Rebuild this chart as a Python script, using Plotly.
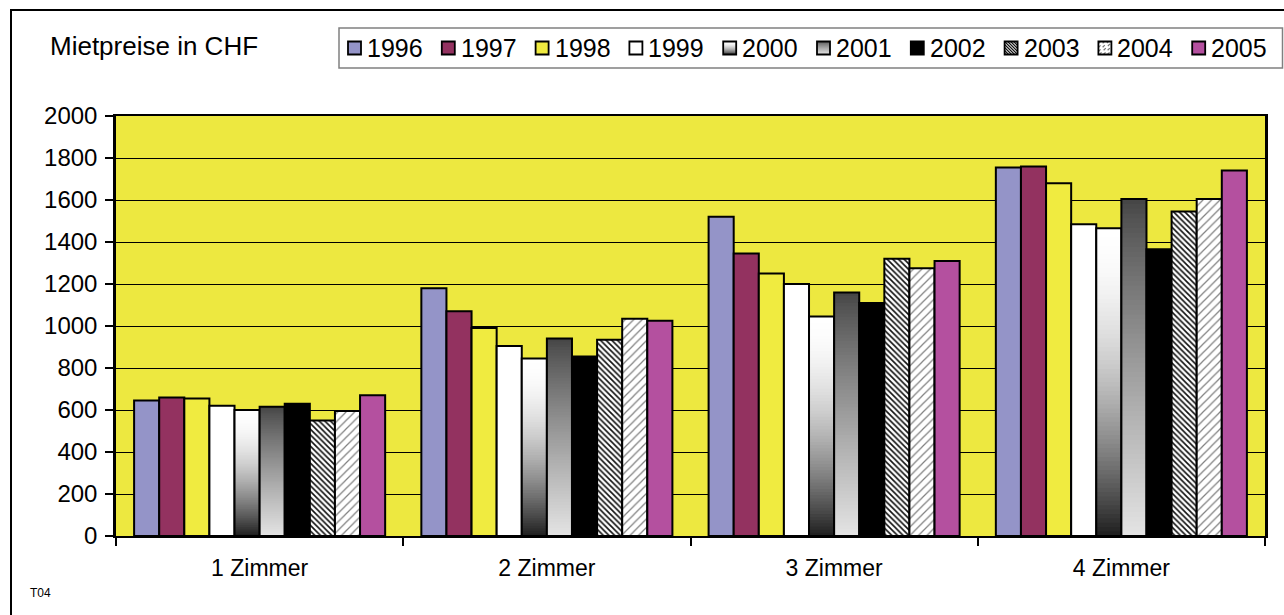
import plotly.graph_objects as go

# Rent prices (CHF) by apartment size and year
categories = ["1 Zimmer", "2 Zimmer", "3 Zimmer", "4 Zimmer"]
years = ["1996", "1997", "1998", "1999", "2000", "2001", "2002", "2003", "2004", "2005"]

rent_1996 = [645, 1180, 1520, 1755]
rent_1997 = [660, 1070, 1345, 1760]
rent_1998 = [655, 990, 1250, 1680]
rent_1999 = [620, 905, 1200, 1485]
rent_2000 = [600, 845, 1045, 1465]
rent_2001 = [615, 940, 1160, 1605]
rent_2002 = [630, 855, 1110, 1365]
rent_2003 = [550, 935, 1320, 1545]
rent_2004 = [595, 1035, 1275, 1605]
rent_2005 = [670, 1025, 1310, 1740]

y_ticks = [0, 200, 400, 600, 800, 1000, 1200, 1400, 1600, 1800, 2000]

series = {
    "1996": rent_1996, "1997": rent_1997, "1998": rent_1998, "1999": rent_1999,
    "2000": rent_2000, "2001": rent_2001, "2002": rent_2002, "2003": rent_2003,
    "2004": rent_2004, "2005": rent_2005,
}

FONT = "Liberation Sans, Arial, sans-serif"
W, H = 1284, 615
PL, PR, PT, PB = 116, 1265, 116, 536  # plot area in pixels

solid = {"1996": "#9494C8", "1997": "#933260", "1998": "#F0EB40",
         "1999": "#FFFFFF", "2002": "#000000", "2005": "#B4509F"}


def grey(v):
    v = int(max(0, min(255, round(v))))
    return f"rgb({v},{v},{v})"


# vertical shading, t = 0 at the bar top, 1 at the bar bottom
def shade_2000(t):
    return 255 - 225 * t ** 1.8


def shade_2001(t):
    return 68 + 160 * t ** 0.85


shading = {"2000": shade_2000, "2001": shade_2001}
patterns = {
    "2003": dict(shape="\\", fgcolor="#111111", bgcolor="white", size=4, solidity=0.4, fillmode="replace"),
    "2004": dict(shape="/", fgcolor="#808080", bgcolor="white", size=6, solidity=0.2, fillmode="replace"),
}

STEPS = 70
outline = dict(color="black", width=2)

fig = go.Figure()
for yr in years:
    vals = series[yr]
    if yr in shading:
        # shaded bars: nested bars from full height down, each a shade lighter/darker
        for k in range(STEPS, 0, -1):
            t = 1 - (k - 0.5) / STEPS
            fig.add_trace(go.Bar(
                x=categories, y=[v * k / STEPS for v in vals], offsetgroup=yr,
                marker=dict(color=grey(shading[yr](t)), line=dict(width=0)),
                showlegend=False, hoverinfo="skip"))
        fig.add_trace(go.Bar(
            x=categories, y=vals, name=yr, offsetgroup=yr,
            marker=dict(color="rgba(0,0,0,0)", line=outline), showlegend=False))
    elif yr in patterns:
        fig.add_trace(go.Bar(
            x=categories, y=vals, name=yr, offsetgroup=yr,
            marker=dict(color="white", line=outline, pattern=patterns[yr]),
            showlegend=False))
    else:
        fig.add_trace(go.Bar(
            x=categories, y=vals, name=yr, offsetgroup=yr,
            marker=dict(color=solid[yr], line=outline), showlegend=False))


def px(x):
    return (x - PL) / (PR - PL)


def py(y):
    return (PB - y) / (PB - PT)


shapes = []
annotations = []


def rect(x0, y0, x1, y1, fill, line_color="rgba(0,0,0,0)", line_width=0):
    shapes.append(dict(type="rect", xref="paper", yref="paper",
                       x0=px(x0), x1=px(x1), y0=py(y1), y1=py(y0),
                       fillcolor=fill, line=dict(color=line_color, width=line_width)))


def seg(x0, y0, x1, y1, color, width, dash="solid"):
    shapes.append(dict(type="line", xref="paper", yref="paper",
                       x0=px(x0), x1=px(x1), y0=py(y0), y1=py(y1),
                       line=dict(color=color, width=width, dash=dash)))


# outer frame: left and top edges
seg(11, 10, 11, 615, "black", 2)
seg(10, 10, 1284, 10, "black", 2)

# legend box
rect(339, 28, 1282.5, 68, "white", "#808080", 1.5)

SW0, PITCH, SW, SY = 348, 93.8, 13, 41.5
for i, yr in enumerate(years):
    x0 = SW0 + i * PITCH
    x1, y0, y1 = x0 + SW, SY, SY + SW
    if yr in solid:
        rect(x0, y0, x1, y1, solid[yr])
    elif yr in shading:
        n = 13
        for j in range(n):
            rect(x0, y0 + j * SW / n, x1, y0 + (j + 1) * SW / n + 0.3,
                 grey(shading[yr]((j + 0.5) / n)))
    elif yr == "2003":
        rect(x0, y0, x1, y1, "white")
        for c in range(-12, 13, 3):
            seg(x0 + max(c, 0), y0 + max(-c, 0), x1 + min(c, 0), y1 - max(c, 0), "#111111", 1.1)
    else:
        rect(x0, y0, x1, y1, "white")
        for c in range(2, 26, 4):
            seg(x0 + max(0, c - SW), y0 + min(c, SW), x0 + min(c, SW), y0 + max(0, c - SW),
                "#777777", 1.2, "dot")
    rect(x0, y0, x1, y1, "rgba(0,0,0,0)", "black", 1.8)
    annotations.append(dict(text=yr, xref="paper", yref="paper", x=px(x0 + 17), y=py(48),
                            xanchor="left", yanchor="middle", showarrow=False,
                            font=dict(family=FONT, size=25, color="black")))

annotations.append(dict(text="Mietpreise in CHF", xref="paper", yref="paper", x=px(48), y=py(46),
                        xanchor="left", yanchor="middle", showarrow=False,
                        font=dict(family=FONT, size=26, color="black")))
annotations.append(dict(text="T04", xref="paper", yref="paper", x=px(28), y=py(593),
                        xanchor="left", yanchor="middle", showarrow=False,
                        font=dict(family=FONT, size=12, color="black")))

fig.update_layout(
    width=W, height=H,
    margin=dict(l=PL, r=W - PR, t=PT, b=H - PB, pad=0),
    paper_bgcolor="white", plot_bgcolor="#EDE840",
    barmode="group", bargap=0.126, bargroupgap=0,
    font=dict(family=FONT, size=23, color="black"),
    showlegend=False,
    shapes=shapes, annotations=annotations,
    xaxis=dict(
        type="category", tickson="boundaries", ticks="outside", ticklen=8, tickwidth=1.5,
        tickcolor="black", showline=True, linecolor="black", linewidth=2, mirror=True,
        showgrid=False, tickfont=dict(family=FONT, size=23, color="black"),
        ticklabelstandoff=10,
    ),
    yaxis=dict(
        range=[0, 2000], tickvals=y_ticks, ticks="outside", ticklen=8, tickwidth=1.5,
        tickcolor="black", showline=True, linecolor="black", linewidth=2.5, mirror=True,
        showgrid=True, gridcolor="black", gridwidth=1, zeroline=False,
        tickfont=dict(family=FONT, size=24, color="black"), ticklabelstandoff=3,
    ),
)

fig.write_html("out.html")
